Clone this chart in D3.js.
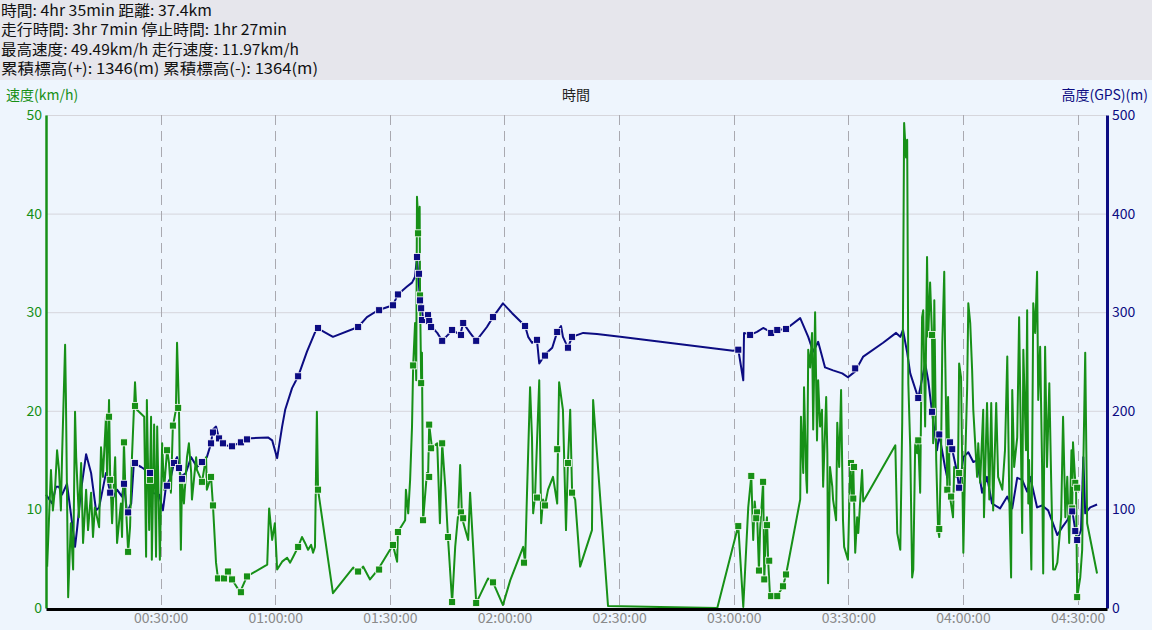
<!DOCTYPE html>
<html><head><meta charset="utf-8">
<script src="https://cdn.jsdelivr.net/npm/d3@7"></script>
<style>
html,body{margin:0;padding:0;background:#eef5fd;}
svg{display:block;font-family:"Noto Sans CJK JP","Noto Sans",sans-serif;}
</style></head>
<body><svg id="c" width="1152" height="630"></svg>
<script>
// ---- summary text ----
const summaryLines = [
  "時間: 4hr 35min 距離: 37.4km",
  "走行時間: 3hr 7min 停止時間: 1hr 27min",
  "最高速度: 49.49km/h 走行速度: 11.97km/h",
  "累積標高(+): 1346(m) 累積標高(-): 1364(m)"
];
const summaryWidths = [211, 286, 298, 317];
const leftTitle = "速度(km/h)";
const centerTitle = "時間";
const rightTitle = "高度(GPS)(m)";
const speedTicks = [0, 10, 20, 30, 40, 50];
const altTicks = [0, 100, 200, 300, 400, 500];
const timeTicks = [30, 60, 90, 120, 150, 180, 210, 240, 270]; // minutes

// ---- altitude (GPS) series: [minutes, metres] ----
const altData = [
[0,115],[1.6,106],[2.6,123],[3.4,123],[4.2,115],[5.5,126],[6.8,87],[7.6,62],[8.1,79],[9.2,120],
[10.5,156],[11.8,137],[13.1,99],[13.9,102],[15.7,137],[16.8,117],[17.3,110],[18.6,120],[19.9,113],[20.4,126],
[21.2,97],[22.3,106],[23.0,147],[24.9,143],[27.2,137],[27.7,117],[29.6,115],[30.6,99],[31.4,123],[32.7,133],
[33.5,147],[34.3,153],[35.3,133],[36.6,137],[38.0,153],[39.5,143],[40.8,148],[42.1,153],[43.2,167],[43.7,181],
[44.5,184],[45.3,172],[46.6,165],[48.7,164],[50.8,168],[52.6,172],[58.1,173],[59.2,170],[60.5,152],[61.8,184],
[62.6,201],[64.4,223],[66.0,235],[68.3,260],[70.9,284],[75.1,275],[81.7,285],[84.0,295],[86.9,302],[90.8,307],
[92.1,318],[94.5,326],[95.8,330],[96.6,336],[97.1,356],[97.4,339],[97.9,312],[98.4,304],[98.7,292],[100.0,297],
[100.5,290],[101.0,285],[102.4,279],[103.7,271],[105.2,277],[106.3,282],[108.4,277],[109.2,289],[111.0,279],[112.6,271],
[115.4,285],[117.0,295],[119.6,309],[122.0,299],[125.4,286],[126.2,275],[127.2,269],[128.5,272],[129.1,248],[130.6,257],
[132.5,264],[133.8,280],[134.8,286],[135.3,275],[136.6,264],[137.7,275],[140.6,279],[144.2,278],[150.3,275],[179.8,261],
[181.2,262],[182.5,231],[182.7,279],[184.3,277],[186.1,280],[187.7,284],[190.1,279],[191.4,282],[193.7,283],[197.4,294],
[199.5,275],[200.8,260],[202.1,270],[203.9,244],[206.0,241],[208.4,238],[209.9,234],[211.8,240],[213.9,255],[219.1,269],
[222.5,279],[223.6,275],[224.3,282],[225.4,259],[226.2,238],[228.3,213],[230.1,248],[230.9,231],[231.9,199],[233.2,160],
[233.8,176],[235.3,143],[235.9,132],[236.6,167],[237.4,157],[238.5,137],[239.0,120],[240.1,153],[241.4,158],[242.7,148],
[243.7,150],[245.0,117],[246.3,133],[247.6,106],[249.7,101],[251.6,113],[252.9,101],[254.2,132],[255.5,130],[256.8,118],
[257.6,133],[259.4,102],[260.7,104],[262.3,99],[264.7,74],[266.0,82],[267.3,89],[268.6,99],[269.4,79],[269.9,69],
[270.9,79],[271.5,153],[272.0,96],[273.3,102],[275.1,105]
];
const altMarkers = [
[16.8,117],[20.4,126],[21.5,97],[23.3,147],[27.2,137],[31.7,124],[33.5,147],[34.8,142],[35.6,131],[40.8,148],
[43.2,167],[43.7,178],[45.3,172],[46.3,167],[48.7,164],[51.0,168],[52.6,171],[66.0,235],[71.2,284],[81.7,285],
[87.2,302],[90.8,307],[92.1,318],[97.1,356],[97.6,339],[97.9,312],[98.2,304],[98.4,292],[100.0,297],[100.3,291],
[100.8,285],[103.7,271],[106.3,282],[108.6,277],[109.2,289],[112.6,271],[117.0,295],[125.4,286],[128.5,272],[130.6,256],
[133.8,280],[136.6,264],[137.7,275],[181.2,262],[184.3,277],[189.8,279],[191.4,282],[193.7,283],[211.8,243],[228.3,213],
[231.9,199],[233.8,176],[236.6,168],[237.2,161],[239.0,122],[268.6,98],[269.4,78],[269.9,69]
];

// ---- speed series: [minutes, km/h] ----
const speedData = [
[0.3,4.2],[0.8,9.2],[1.3,14.0],[1.8,9.9],[2.4,12.3],[2.9,16.0],[3.4,14.0],[3.9,9.9],[4.2,15.3],[5.0,26.7],
[5.2,21.8],[5.8,1.1],[6.5,8.6],[7.1,3.9],[7.6,19.9],[7.9,15.3],[8.6,9.2],[9.2,14.7],[9.7,6.6],[10.5,12.0],
[11.0,7.9],[11.8,11.7],[12.3,7.2],[12.8,10.2],[13.9,8.2],[14.4,16.3],[14.9,13.3],[15.7,19.4],[16.0,13.0],[16.5,21.1],
[16.8,13.0],[17.0,11.7],[17.3,8.6],[18.1,15.3],[18.6,6.6],[19.6,10.6],[19.9,7.2],[20.4,16.8],[20.9,10.6],[21.5,5.7],
[22.0,8.2],[22.5,15.3],[23.3,22.9],[23.6,20.5],[23.8,20.1],[25.7,19.4],[26.2,5.2],[26.4,21.1],[27.0,7.9],[27.5,19.4],
[27.7,4.9],[28.3,18.6],[28.8,5.2],[29.1,18.4],[29.8,4.9],[30.4,16.7],[30.9,12.0],[31.7,16.1],[32.2,14.7],[32.7,11.7],
[33.2,18.4],[34.0,20.1],[34.3,26.9],[34.8,20.3],[35.3,5.9],[35.6,13.0],[36.1,10.6],[36.9,15.3],[37.4,16.7],[38.0,13.7],
[38.2,11.0],[39.3,15.3],[39.5,14.0],[40.3,13.3],[40.8,12.7],[41.9,15.3],[42.1,12.0],[43.2,13.3],[43.7,10.4],[44.5,4.6],
[45.0,3.0],[46.6,3.0],[47.6,3.7],[48.7,2.9],[50.8,1.6],[52.6,3.2],[57.9,4.4],[58.4,10.1],[59.2,6.9],[59.9,8.6],
[60.5,3.9],[61.8,4.7],[63.1,5.1],[63.9,4.6],[64.7,5.2],[66.0,6.2],[67.0,7.2],[67.8,6.6],[68.6,5.9],[69.4,6.4],
[69.9,5.6],[70.4,6.2],[70.9,19.9],[71.2,12.0],[75.1,1.5],[80.4,4.1],[81.7,3.6],[83.0,4.2],[84.8,2.9],[86.9,3.9],
[90.8,6.4],[91.9,4.7],[92.1,7.7],[94.0,8.9],[94.2,12.0],[94.8,9.6],[95.3,13.0],[95.8,18.4],[96.1,24.6],[96.6,28.9],
[96.9,23.1],[97.1,41.7],[97.6,38.1],[97.8,40.7],[97.9,31.5],[98.2,22.8],[98.4,25.9],[98.7,8.9],[99.7,13.7],[100.0,13.3],
[100.3,18.6],[101.0,16.3],[102.4,16.7],[103.1,8.6],[103.7,16.7],[104.5,12.3],[105.2,7.2],[106.3,0.6],[107.1,6.2],[107.9,9.6],
[108.4,14.5],[108.9,9.1],[110.5,6.9],[111.0,11.7],[111.8,6.2],[112.6,0.5],[115.7,3.0],[117.0,2.6],[119.6,0.3],[121.5,2.8],
[124.9,6.2],[125.4,4.6],[125.9,11.7],[126.7,22.4],[127.2,17.3],[127.5,9.6],[128.0,11.3],[129.1,23.1],[129.6,8.6],[130.1,11.0],
[130.6,10.4],[131.4,12.0],[132.7,13.3],[133.8,10.6],[134.0,16.3],[134.3,22.9],[135.3,20.1],[136.1,7.9],[136.6,14.7],[137.2,20.1],
[137.7,11.7],[138.5,11.0],[139.8,4.2],[142.9,7.9],[143.2,21.1],[147.1,0.2],[160.7,0.1],[175.7,0.0],[180.9,7.9],[181.2,8.3],
[182.5,0.1],[183.8,10.2],[184.6,13.4],[185.1,6.9],[185.5,10.8],[185.9,9.1],[186.1,9.7],[186.6,3.8],[186.9,7.9],[187.7,12.8],
[188.0,2.9],[188.5,8.4],[188.7,9.2],[189.0,4.9],[189.5,1.2],[191.4,1.2],[192.9,2.2],[193.7,3.4],[197.4,11.0],[197.6,19.4],
[198.2,13.7],[198.4,22.4],[199.0,13.0],[199.2,11.7],[199.5,26.2],[200.0,24.4],[200.5,27.9],[200.8,18.1],[201.3,30.0],[201.8,17.0],
[202.1,23.1],[202.6,18.4],[203.1,20.1],[203.4,12.3],[204.2,21.4],[204.5,15.7],[204.7,2.5],[205.2,14.3],[205.8,12.3],[206.0,11.0],
[206.8,8.9],[207.1,18.8],[207.6,14.3],[208.1,22.1],[208.6,8.9],[208.9,6.2],[209.9,4.9],[210.5,14.7],[211.0,11.3],[211.3,14.3],
[211.8,5.6],[212.3,9.2],[212.6,7.6],[213.6,14.0],[213.9,10.8],[222.3,16.5],[222.8,7.6],[223.6,5.9],[224.1,18.8],[224.3,29.2],
[224.6,49.2],[225.1,45.7],[225.4,47.5],[225.7,22.8],[226.2,16.3],[226.7,3.1],[227.0,3.9],[227.5,16.7],[228.0,15.7],[228.3,17.0],
[228.8,11.7],[229.3,29.5],[229.6,30.2],[230.1,18.4],[230.6,35.6],[230.9,27.5],[231.4,33.0],[231.9,27.7],[232.2,16.7],[232.5,31.2],
[233.0,15.0],[233.5,7.9],[233.8,7.2],[234.3,16.7],[234.6,26.9],[235.1,34.1],[235.3,26.9],[235.9,12.0],[236.1,21.4],[236.6,11.3],
[237.4,9.2],[237.7,14.3],[238.2,13.3],[238.7,13.7],[239.0,24.8],[239.5,23.4],[240.1,5.6],[240.6,15.0],[241.1,22.4],[241.4,30.9],
[241.9,28.9],[242.4,24.1],[242.7,20.1],[243.2,16.7],[243.7,13.3],[244.0,16.7],[244.5,12.7],[245.3,20.1],[245.5,9.2],[246.3,20.8],
[246.9,11.0],[247.4,20.8],[247.9,9.9],[248.7,20.8],[249.2,13.3],[250.3,12.0],[251.0,16.0],[251.6,25.5],[252.1,11.7],[252.6,3.1],
[252.9,22.1],[253.4,14.3],[254.2,17.3],[254.7,29.5],[255.5,7.6],[255.8,26.2],[256.5,16.0],[256.8,30.2],[257.1,10.6],[257.3,15.0],
[257.9,3.9],[258.4,30.9],[258.9,27.9],[259.4,34.1],[259.7,21.1],[260.2,26.5],[260.7,14.7],[261.0,3.5],[261.5,26.5],[262.0,14.3],
[262.6,22.8],[263.1,12.7],[263.6,3.9],[264.1,3.9],[264.7,4.6],[265.7,9.2],[266.2,19.4],[266.8,9.2],[267.3,13.3],[267.8,6.6],
[268.4,16.0],[268.6,10.1],[268.8,16.8],[269.4,12.7],[269.6,12.2],[269.9,1.1],[270.7,3.1],[271.2,5.9],[271.5,14.3],[272.0,25.9],
[272.5,8.6],[275.1,3.5]
];
const speedMarkers = [
[16.5,19.4],[16.8,13.0],[20.4,16.8],[21.5,5.7],[23.3,20.5],[27.2,13.0],[31.7,16.0],[33.2,18.5],[34.6,20.3],[35.6,13.0],
[40.8,12.8],[43.2,13.3],[43.7,10.4],[45.0,3.0],[46.6,3.0],[47.6,3.7],[48.7,2.9],[51.0,1.6],[52.6,3.2],[66.0,6.2],
[71.2,12.0],[81.7,3.7],[87.2,3.9],[90.8,6.4],[92.1,7.7],[96.1,24.6],[97.4,38.0],[97.9,31.7],[98.2,22.8],[98.7,8.9],
[100.3,18.6],[100.8,16.2],[100.3,13.3],[103.7,16.7],[105.2,7.2],[106.3,0.6],[108.6,9.7],[109.2,9.1],[112.6,0.5],[117.0,2.6],
[125.1,4.6],[128.5,11.2],[130.6,10.4],[133.8,16.1],[136.6,14.7],[137.7,11.7],[181.2,8.3],[184.6,13.4],[186.1,9.7],[185.9,9.1],
[187.7,12.8],[188.7,8.4],[189.3,4.8],[186.6,3.8],[188.0,2.9],[189.8,1.2],[191.4,1.2],[192.9,2.2],[193.7,3.4],[210.7,14.7],
[211.5,14.3],[211.3,11.1],[228.3,17.0],[231.9,27.7],[233.8,8.0],[235.9,12.0],[236.9,11.3],[239.0,13.7],[269.4,12.7],[269.9,12.2],
[268.6,10.1],[269.9,1.1]
];

// ---- drawing ----
const W = 1152, H = 630;
const svg = d3.select("#c");
const green = "#179017", navy = "#0c0c82";
const plot = {left: 46, right: 1107, top: 115, bottom: 608};

svg.append("rect").attr("x",0).attr("y",0).attr("width",W).attr("height",H).attr("fill","#eef5fd");
svg.append("rect").attr("x",0).attr("y",0).attr("width",W).attr("height",80).attr("fill","#e6e6ec");

summaryLines.forEach((s,i)=>{
  svg.append("text").attr("x",1).attr("y",16+i*19.3).attr("font-size",15).attr("fill","#111")
    .attr("textLength",summaryWidths[i]).attr("lengthAdjust","spacingAndGlyphs").text(s);
});

const x = d3.scaleLinear().domain([0,277.7]).range([plot.left, plot.right]);
const yS = d3.scaleLinear().domain([0,50]).range([plot.bottom, plot.top]);
const yA = d3.scaleLinear().domain([0,500]).range([plot.bottom, plot.top]);

// horizontal grid
svg.append("g").selectAll("line").data(speedTicks.filter(d=>d>0)).join("line")
  .attr("x1",plot.left).attr("x2",plot.right).attr("y1",d=>yS(d)+0.5).attr("y2",d=>yS(d)+0.5)
  .attr("stroke","#d6d6dc").attr("stroke-width",1);
// vertical dashed grid
svg.append("g").selectAll("line").data(timeTicks).join("line")
  .attr("x1",d=>Math.round(x(d))+0.5).attr("x2",d=>Math.round(x(d))+0.5).attr("y1",plot.top).attr("y2",plot.bottom)
  .attr("stroke","#a9a9b0").attr("stroke-width",1).attr("stroke-dasharray","10,6");

// titles
svg.append("text").attr("x",6).attr("y",100).attr("font-size",14).attr("fill",green).text(leftTitle);
svg.append("text").attr("x",576).attr("y",100).attr("font-size",14).attr("fill","#222").attr("text-anchor","middle").text(centerTitle);
svg.append("text").attr("x",1148).attr("y",100).attr("font-size",14).attr("fill",navy).attr("text-anchor","end").text(rightTitle);

// lines
const altLine = d3.line().x(d=>x(d[0])).y(d=>yA(d[1]));
const spdLine = d3.line().x(d=>x(d[0])).y(d=>yS(d[1]));
svg.append("path").datum(altData).attr("d",altLine).attr("fill","none").attr("stroke",navy).attr("stroke-width",2).attr("stroke-linejoin","round");
svg.append("path").datum(speedData).attr("d",spdLine).attr("fill","none").attr("stroke",green).attr("stroke-width",2).attr("stroke-linejoin","round");

// markers
const ms = 7;
svg.append("g").selectAll("rect").data(speedMarkers).join("rect")
  .attr("x",d=>x(d[0])-ms/2).attr("y",d=>yS(d[1])-ms/2).attr("width",ms).attr("height",ms)
  .attr("fill",green).attr("stroke","#ffffff").attr("stroke-width",0.8);
svg.append("g").selectAll("rect").data(altMarkers).join("rect")
  .attr("x",d=>x(d[0])-ms/2).attr("y",d=>yA(d[1])-ms/2).attr("width",ms).attr("height",ms)
  .attr("fill",navy).attr("stroke","#ffffff").attr("stroke-width",0.8);

// axes
const axL = svg.append("g").attr("transform",`translate(${plot.left},0)`)
  .call(d3.axisLeft(yS).tickValues(speedTicks).tickSize(0).tickPadding(4));
axL.select(".domain").attr("stroke",green).attr("stroke-width",2.5);
axL.selectAll("text").attr("fill",green).attr("font-size",14).attr("font-family",'"Noto Sans CJK JP",sans-serif');

const axR = svg.append("g").attr("transform",`translate(${plot.right},0)`)
  .call(d3.axisRight(yA).tickValues(altTicks).tickSize(0).tickPadding(5));
axR.select(".domain").attr("stroke",navy).attr("stroke-width",3);
axR.selectAll("text").attr("fill",navy).attr("font-size",14).attr("font-family",'"Noto Sans CJK JP",sans-serif');

const fmt = m => { const h=Math.floor(m/60), mm=m%60; return String(h).padStart(2,"0")+":"+String(mm).padStart(2,"0")+":00"; };
const axB = svg.append("g").attr("transform",`translate(0,${plot.bottom+1})`)
  .call(d3.axisBottom(x).tickValues(timeTicks).tickFormat(fmt).tickSize(0).tickPadding(4));
axB.select(".domain").attr("stroke","#000").attr("stroke-width",3);
axB.selectAll("text").attr("fill","#8a8a8a").attr("font-size",14).attr("font-family",'"Noto Sans CJK JP",sans-serif');
</script></body></html>
